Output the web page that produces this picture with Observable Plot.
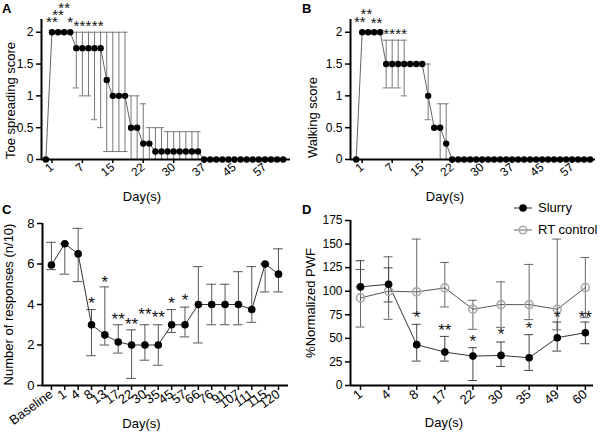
<!DOCTYPE html>
<html><head><meta charset="utf-8">
<script src="https://cdn.jsdelivr.net/npm/d3@7"></script>
<script src="https://cdn.jsdelivr.net/npm/@observablehq/plot@0.6"></script>
<style>
body{margin:0;background:#fff;font-family:"Liberation Sans",Arial,Helvetica,sans-serif;}
#wrap{position:relative;width:600px;height:432px;overflow:hidden;background:#fff}
.panel{position:absolute}
.letter{position:absolute;font-weight:bold;font-size:13px;line-height:1}
#legend{position:absolute;left:512px;top:197px;font-size:13px;line-height:22px;color:#000}
#legend div{display:flex;align-items:center;white-space:nowrap}
#legend svg{margin-right:4px}
svg text{-webkit-font-smoothing:antialiased}
</style></head><body>
<div id="wrap"></div>
<script>
// ---------- Panels A & B: scores at 40 consecutive observation points ----------
const tickIdxAB = [1, 6, 11, 16, 21, 26, 31, 36];
const tickLabelsAB = ["1", "7", "15", "22", "30", "37", "45", "57"];
const yTicksAB = [0, 0.5, 1, 1.5, 2];

const toeMean = [0, 2, 2, 2, 2, 1.75, 1.75, 1.75, 1.75, 1.75, 1.25, 1, 1, 1, 0.5, 0.5, 0.25, 0.25,
  0.125, 0.125, 0.125, 0.125, 0.125, 0.125, 0.125, 0.125,
  0, 0, 0, 0, 0, 0, 0, 0, 0, 0, 0, 0, 0, 0];
const toeLow = [null, null, null, null, null, 1.125, 1, 1, 0.625, 0.5, 0.125, 0.125, 0.125, 0.125, 0, 0, 0, 0,
  0, 0, 0, 0, 0, 0, 0, 0];
const toeHigh = [null, null, null, null, null, 2, 2, 2, 2, 2, 2, 2, 2, 2, 1, 1, 0.875, 0.5,
  0.5, 0.5, 0.4375, 0.4375, 0.4375, 0.4375, 0.4375, 0.4375];
const toeStarIdx = [1, 2, 3, 4, 5, 6, 7, 8, 9];
const toeStarText = ["**", "**", "**", "*", "*", "*", "*", "*", "*"];
const toeStarY = [2.22, 2.33, 2.44, 2.22, 2.16, 2.16, 2.16, 2.16, 2.16];

const walkMean = [0, 2, 2, 2, 2, 1.5, 1.5, 1.5, 1.5, 1.5, 1.5, 1.5, 1, 0.5, 0.5, 0.25,
  0, 0, 0, 0, 0, 0, 0, 0, 0, 0, 0, 0, 0, 0, 0, 0, 0, 0, 0, 0, 0, 0, 0, 0];
const walkLow = [null, null, null, null, null, 1.125, 1.125, 1.125, 1, null, null, null, 0.625, null, 0, 0];
const walkHigh = [null, null, null, null, null, 1.875, 1.875, 1.875, 1.875, null, null, null, 1.5, null, 0.875, 0.875];
const walkStarIdx = [0.6, 1.7, 3.4, 5, 6, 7, 8];
const walkStarText = ["**", "**", "**", "*", "*", "*", "*"];
const walkStarY = [2.22, 2.35, 2.2, 2.03, 2.03, 2.03, 2.03];

// ---------- Panel C: number of responses ----------
const daysC = ["Baseline", "1", "4", "8", "13", "17", "22", "30", "35", "45", "57", "66", "76", "91", "107", "111", "115", "120"];
const respMean = [5.95, 7.0, 6.5, 3.0, 2.5, 2.15, 2.0, 2.0, 2.0, 3.0, 3.0, 4.0, 4.0, 4.0, 4.0, 3.75, 6.0, 5.5];
const respLow  = [5.72, 5.5, 5.13, 1.47, 2.0, 1.6, 0.35, 1.25, 1.0, 2.62, 2.4, 2.1, 3.0, 3.0, 3.0, 3.12, 4.62, 4.62];
const respHigh = [7.07, 7.0, 7.76, 3.75, 4.87, 3.0, 2.75, 3.0, 3.0, 3.75, 3.87, 5.87, 5.0, 5.0, 5.62, 5.87, 6.0, 6.75];
const respStars = ["", "", "", "*", "*", "**", "**", "**", "**", "*", "*", "", "", "", "", "", "", ""];
const respStarY = [null, null, null, 4.25, 5.3, 3.47, 3.25, 3.71, 3.55, 4.29, 4.42, null, null, null, null, null, null, null];

// ---------- Panel D: %Normalized PWF ----------
const daysD = ["1", "4", "8", "17", "22", "30", "35", "49", "60"];
const seriesNames = ["Slurry", "RT control"];
const slurryMean = [104.6, 107.4, 43.3, 35.4, 31.2, 31.9, 29.4, 50.7, 56.0];
const slurryLow  = [104.6, 88.6, 25.9, 25.9, 5.3, 20.2, 16.0, 36.5, 44.3];
const slurryHigh = [132.3, 124.8, 64.9, 52.1, 40.1, 46.1, 53.9, 67.3, 67.3];
const rtMean = [92.9, 100.0, 99.3, 103.5, 80.9, 85.8, 85.8, 80.9, 103.9];
const rtLow  = [62.0, 70.2, 76.6, 83.3, 59.6, 61.7, 69.9, 59.0, 72.0];
const rtHigh = [123.0, 136.5, 155.3, 130.5, 90.4, 109.9, 128.4, 155.3, 135.8];
const pwfStars = ["", "", "*", "**", "*", "*", "*", "*", "**"];
const pwfStarY = [null, null, 76.6, 62.8, 51.0, 58.5, 65.0, 76.6, 76.6];

// ---------- helpers ----------
const FONT = '"Liberation Sans", Arial, Helvetica, sans-serif';
const style = {fontFamily: FONT, fontSize: "12px", color: "#000", background: "transparent", overflow: "visible"};
const wrap = document.getElementById("wrap");

function rows(mean, low, high) {
  return mean.map((v, i) => ({i, v, lo: low[i] ?? null, hi: high[i] ?? null}));
}
function errorMarks(data, half, stroke, sw = 1) {
  const bars = data.filter(d => d.lo != null && d.hi != null);
  return [
    Plot.ruleX(bars, {x: "i", y1: "lo", y2: "hi", stroke, strokeWidth: sw}),
    Plot.ruleY(bars, {y: "lo", x1: d => d.i - half, x2: d => d.i + half, stroke, strokeWidth: sw}),
    Plot.ruleY(bars, {y: "hi", x1: d => d.i - half, x2: d => d.i + half, stroke, strokeWidth: sw})
  ];
}
function place(node, left, top) {
  const d = document.createElement("div");
  d.className = "panel";
  d.style.left = left + "px"; d.style.top = top + "px";
  d.appendChild(node);
  wrap.appendChild(d);
}
function letter(t, left, top) {
  const d = document.createElement("div");
  d.className = "letter"; d.textContent = t;
  d.style.left = left + "px"; d.style.top = top + "px";
  wrap.appendChild(d);
}
function stars(idx, txt, ys) {
  return idx.map((i, k) => ({i, t: txt[k], y: ys[k]})).filter(d => d.t && d.y != null);
}
function starMark(data, size) {
  return Plot.text(data, {x: "i", y: "y", text: "t", fontSize: size, dy: size * 0.26, fill: "#111"});
}
function xTitle(dx, dy) {
  return Plot.text(["Day(s)"], {frameAnchor: "bottom", textAnchor: "middle", lineAnchor: "middle", dx, dy, fontSize: 13});
}
function yTitle(t, dx, dy) {
  return Plot.text([t], {frameAnchor: "left", textAnchor: "middle", lineAnchor: "middle", rotate: -90, dx, dy, fontSize: 13});
}

function scorePanel({mean, low, high, starIdx, starText, starY, xDomain, marginLeft, marginRight, ylabel, ylabDx, ylabDy, xlabDx}) {
  const data = rows(mean, low, high);
  return Plot.plot({
    width: 300, height: 200, marginLeft, marginRight, marginTop: 19, marginBottom: 41,
    style,
    x: {type: "linear", domain: xDomain},
    y: {domain: [0, 2.2]},
    marks: [
      ...errorMarks(data, 0.5, "#777"),
      Plot.line(data, {x: "i", y: "v", stroke: "#666", strokeWidth: 1}),
      Plot.dot(data, {x: "i", y: "v", r: 3.2, fill: "#000"}),
      starMark(stars(starIdx, starText, starY), 15),
      Plot.axisY({ticks: yTicksAB, tickFormat: d => String(d), tickSize: 5, tickPadding: 3, label: null, strokeWidth: 1.5, fontSize: 12}),
      Plot.axisX({ticks: tickIdxAB, tickFormat: d => tickLabelsAB[tickIdxAB.indexOf(d)], tickRotate: -40, tickSize: 4, tickPadding: 2, label: null, strokeWidth: 1.5, fontSize: 12}),
      Plot.ruleX([xDomain[0]], {stroke: "#000", strokeWidth: 2}),
      Plot.ruleY([0], {stroke: "#000", strokeWidth: 2}),
      xTitle(xlabDx, 37),
      yTitle(ylabel, ylabDx, ylabDy)
    ]
  });
}

// ---------- Panel A ----------
place(scorePanel({mean: toeMean, low: toeLow, high: toeHigh, starIdx: toeStarIdx, starText: toeStarText, starY: toeStarY,
  xDomain: [-0.72, 40.2], marginLeft: 41, marginRight: 10, ylabel: "Toe spreading score", ylabDx: -31, ylabDy: 11, xlabDx: -24}), 0, 0);
letter("A", 2, 2);

// ---------- Panel B ----------
place(scorePanel({mean: walkMean, low: walkLow, high: walkHigh, starIdx: walkStarIdx, starText: walkStarText, starY: walkStarY,
  xDomain: [-0.95, 39.9], marginLeft: 50, marginRight: 5, ylabel: "Walking score", ylabDx: -38, ylabDy: 28, xlabDx: -28}), 300, 0);
letter("B", 302, 2);

// ---------- Panel C ----------
{
  const data = rows(respMean, respLow, respHigh);
  const xDom = [-0.67, 17.75];
  const plotC = Plot.plot({
    width: 300, height: 232, marginLeft: 42, marginRight: 12, marginTop: 23, marginBottom: 47,
    style,
    x: {type: "linear", domain: xDom},
    y: {domain: [0, 8]},
    marks: [
      ...errorMarks(data, 0.36, "#555"),
      Plot.line(data, {x: "i", y: "v", stroke: "#333", strokeWidth: 1}),
      Plot.dot(data, {x: "i", y: "v", r: 3.8, fill: "#000"}),
      starMark(stars(d3.range(daysC.length), respStars, respStarY), 17),
      Plot.axisY({ticks: [0, 2, 4, 6, 8], tickSize: 5, tickPadding: 3, label: null, strokeWidth: 1.5, fontSize: 13}),
      Plot.axisX({ticks: d3.range(daysC.length), tickFormat: d => daysC[d], tickRotate: -36, tickSize: 5, tickPadding: 2, label: null, strokeWidth: 1.5, fontSize: 13}),
      Plot.ruleX([xDom[0]], {stroke: "#000", strokeWidth: 2}),
      Plot.ruleY([0], {stroke: "#000", strokeWidth: 2}),
      xTitle(-24, 38),
      yTitle("Number of responses (n/10)", -34, 0)
    ]
  });
  place(plotC, 0, 200);
  letter("C", 2, 203);
}

// ---------- Panel D ----------
{
  const slurry = rows(slurryMean, slurryLow, slurryHigh);
  const rt = rows(rtMean, rtLow, rtHigh);
  const xDom = [-0.356, 8.29];
  const plotD = Plot.plot({
    width: 300, height: 232, marginLeft: 50, marginRight: 7, marginTop: 20, marginBottom: 47,
    style,
    x: {type: "linear", domain: xDom},
    y: {domain: [0, 175]},
    marks: [
      ...errorMarks(rt, 0.16, "#666"),
      ...errorMarks(slurry, 0.16, "#444"),
      Plot.line(rt, {x: "i", y: "v", stroke: "#555", strokeWidth: 1}),
      Plot.line(slurry, {x: "i", y: "v", stroke: "#333", strokeWidth: 1}),
      Plot.dot(rt, {x: "i", y: "v", r: 4, stroke: "#a8a8a8", strokeWidth: 1.6, fill: "none"}),
      Plot.dot(slurry, {x: "i", y: "v", r: 3.8, fill: "#000"}),
      starMark(stars(d3.range(daysD.length), pwfStars, pwfStarY), 17),
      Plot.axisY({ticks: d3.range(0, 176, 25), tickSize: 5, tickPadding: 3, label: null, strokeWidth: 1.5, fontSize: 12}),
      Plot.axisX({ticks: d3.range(daysD.length), tickFormat: d => daysD[d], tickRotate: -40, tickSize: 5, tickPadding: 2, label: null, strokeWidth: 1.5, fontSize: 13}),
      Plot.ruleX([xDom[0]], {stroke: "#000", strokeWidth: 2}),
      Plot.ruleY([0], {stroke: "#000", strokeWidth: 2}),
      xTitle(-28, 37),
      yTitle("%Normalized PWF", -40, 0)
    ]
  });
  place(plotD, 300, 200);
  letter("D", 302, 203);

  // legend
  const leg = document.createElement("div");
  leg.id = "legend";
  const styles = [{stroke: "#333", fill: "#000", cstroke: "none"}, {stroke: "#666", fill: "none", cstroke: "#a8a8a8"}];
  seriesNames.forEach((name, k) => {
    const s = styles[k];
    const row = document.createElement("div");
    row.innerHTML = `<svg width="22" height="12"><line x1="2" x2="20" y1="6" y2="6" stroke="${s.stroke}" stroke-width="1"/><circle cx="11" cy="6" r="3.8" fill="${s.fill}" stroke="${s.cstroke}" stroke-width="1.6"/></svg><span></span>`;
    row.querySelector("span").textContent = name;
    leg.appendChild(row);
  });
  wrap.appendChild(leg);
}
</script>
</body></html>
